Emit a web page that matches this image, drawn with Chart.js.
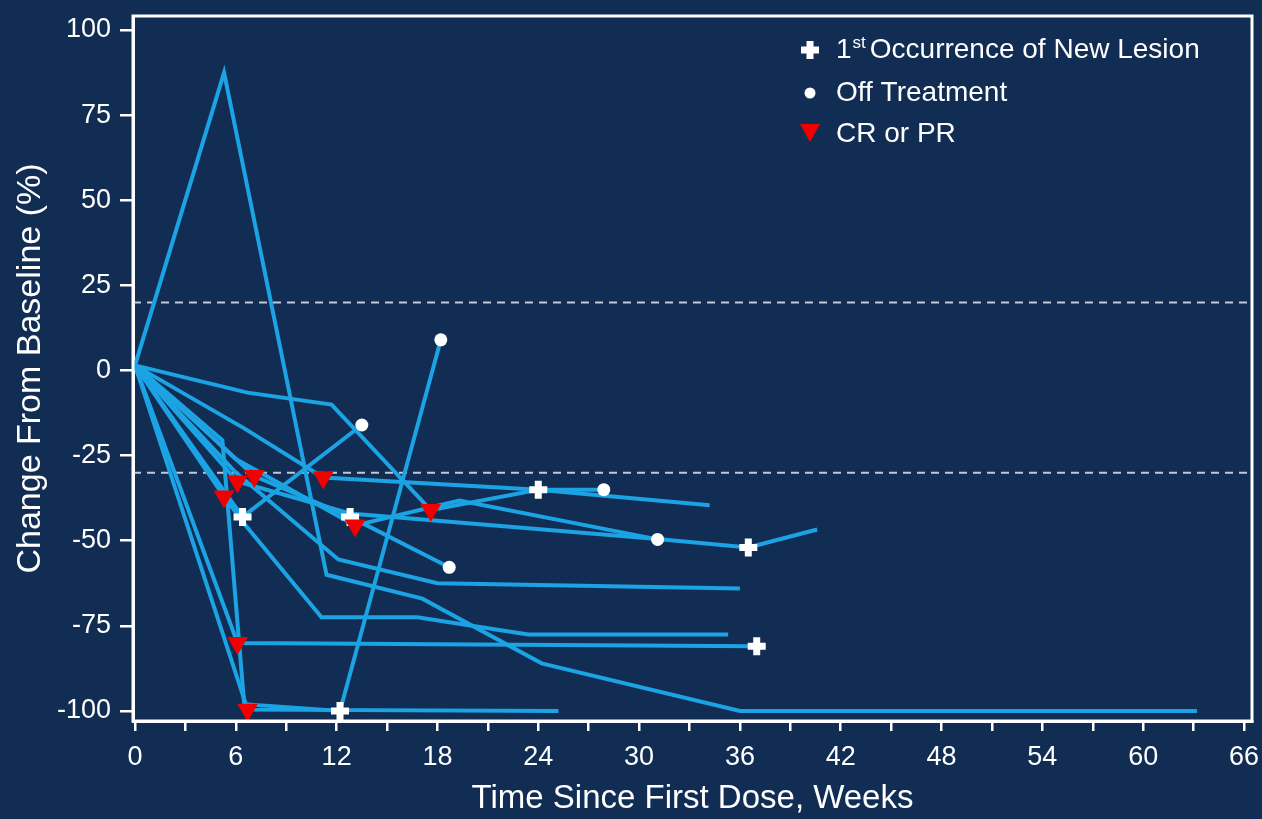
<!DOCTYPE html>
<html>
<head>
<meta charset="utf-8">
<script src="https://cdn.jsdelivr.net/npm/chart.js@4.4.1/dist/chart.umd.min.js"></script>
<style>
  html, body { margin: 0; padding: 0; background: #122d54; }
  #wrap { width: 1262px; height: 819px; }
  canvas { display: block; }
</style>
</head>
<body>
<div id="wrap"><canvas id="spider" width="1262" height="819"></canvas></div>
<script>
// Per-patient tumour size change over time (weeks, % change from baseline)
const pt01Weeks  = [0, 5.3, 11.4, 17.1, 24.2, 36, 63.2];
const pt01Change = [1.5, 87.5, -60, -67, -86, -100, -100];
const pt02Weeks  = [0, 6.7, 11.7, 17.6, 24, 27.9];
const pt02Change = [1.5, -6.5, -10, -41, -35, -35];
const pt03Weeks  = [0, 6.5, 11.2, 24, 34.2];
const pt03Change = [1.5, -17, -31.4, -35, -39.6];
const pt04Weeks  = [0, 6.4, 13.5];
const pt04Change = [1.5, -43, -16];
const pt05Weeks  = [0, 6.1, 37];
const pt05Change = [1.5, -80, -81];
const pt06Weeks  = [0, 6.7, 25.2];
const pt06Change = [1.5, -99.6, -100];
const pt07Weeks  = [0, 5.2, 6.5, 12.2, 18.2];
const pt07Change = [1.5, -20.5, -98, -100, 9];
const pt08Weeks  = [0, 7.1, 12.8, 18.7];
const pt08Change = [1.5, -31, -43, -57.8];
const pt09Weeks  = [0, 6.1, 12.8, 31.1, 36.5, 40.6];
const pt09Change = [1.5, -32.6, -42, -49.5, -52, -46.7];
const pt10Weeks  = [0, 5.3, 6.5, 11.1, 16.8, 23.4, 35.3];
const pt10Change = [1.5, -37, -45, -72.5, -72.5, -77.5, -77.5];
const pt11Weeks  = [0, 6, 13.1, 19.3, 31.1];
const pt11Change = [1.5, -26, -45.5, -38.2, -49.6];
const pt12Weeks  = [0, 6, 12.1, 18, 36];
const pt12Change = [1.5, -30, -55.5, -62.5, -64];

// Event markers
const lesionWeeks  = [24, 12.8, 6.4, 12.2, 36.5, 37];
const lesionChange = [-35, -43, -43, -100, -52, -81];
const offTxWeeks   = [13.5, 18.2, 18.7, 27.9, 31.1];
const offTxChange  = [-16, 9, -57.8, -35, -49.6];
const respWeeks    = [5.3, 6.1, 7.1, 11.2, 13.1, 17.6, 6.1, 6.7];
const respChange   = [-37, -32.6, -31, -31.4, -45.5, -41, -80, -99.6];

// Reference thresholds (progression / response)
const thresholdLevels = [20, -30];

// Axis ticks
const xTickValues = [0,3,6,9,12,15,18,21,24,27,30,33,36,39,42,45,48,51,54,57,60,63,66];
const yTickValues = [-100, -75, -50, -25, 0, 25, 50, 75, 100];

const patients = [
  [pt01Weeks, pt01Change], [pt02Weeks, pt02Change], [pt03Weeks, pt03Change],
  [pt04Weeks, pt04Change], [pt05Weeks, pt05Change], [pt06Weeks, pt06Change],
  [pt07Weeks, pt07Change], [pt08Weeks, pt08Change], [pt09Weeks, pt09Change],
  [pt10Weeks, pt10Change], [pt11Weeks, pt11Change], [pt12Weeks, pt12Change]
];

const X_MIN = -0.119, X_MAX = 66.476;
const Y_MIN = -102.94, Y_MAX = 104.11;

const BG = '#122d54';
const LINE = '#1ba3e3';
const RED = '#f20000';
const FONT = "'Liberation Sans', Arial, sans-serif";

const zip = (xs, ys) => xs.map((x, i) => ({ x: x, y: ys[i] }));

const datasets = [];

// markers on top
datasets.push({
  label: 'CR or PR', data: zip(respWeeks, respChange), showLine: false,
  pointStyle: 'triangle', rotation: 180, pointRadius: 12,
  backgroundColor: RED, borderColor: RED, borderWidth: 0, order: 0, clip: false
});
datasets.push({
  label: 'Off Treatment', data: zip(offTxWeeks, offTxChange), showLine: false,
  pointStyle: 'circle', pointRadius: 6.5,
  backgroundColor: '#ffffff', borderColor: '#ffffff', borderWidth: 0, order: 0, clip: false
});
datasets.push({
  label: '1st Occurrence of New Lesion', data: zip(lesionWeeks, lesionChange), showLine: false,
  pointStyle: 'cross', pointRadius: 9,
  backgroundColor: '#ffffff', borderColor: '#ffffff', borderWidth: 7, order: 0, clip: false
});

// patient trajectories
patients.forEach(([w, c], i) => {
  datasets.push({
    label: 'Patient ' + (i + 1), data: zip(w, c), showLine: true,
    borderColor: LINE, borderWidth: 4, pointRadius: 0, tension: 0,
    borderJoinStyle: 'miter', order: 1, clip: false
  });
});

// threshold reference lines
thresholdLevels.forEach(level => {
  datasets.push({
    label: 'ref ' + level, data: [{ x: X_MIN, y: level }, { x: 66.2, y: level }],
    showLine: true, borderColor: '#c3c8d2', borderWidth: 2, borderDash: [8, 6],
    pointRadius: 0, order: 2
  });
});

// Frame around the plot area plus the marker key in the top right
const framePlugin = {
  id: 'frameAndKey',
  afterDraw(chart) {
    const { ctx, chartArea: a } = chart;
    ctx.save();
    ctx.strokeStyle = '#ffffff';
    ctx.lineWidth = 3;
    ctx.strokeRect(a.left, a.top, a.right - a.left, a.bottom - a.top);

    const mx = 810, tx = 836;
    // cross
    ctx.lineWidth = 7;
    ctx.beginPath();
    ctx.moveTo(mx - 9, 50); ctx.lineTo(mx + 9, 50);
    ctx.moveTo(mx, 41); ctx.lineTo(mx, 59);
    ctx.stroke();
    // circle
    ctx.fillStyle = '#ffffff';
    ctx.beginPath(); ctx.arc(mx, 93, 5.5, 0, Math.PI * 2); ctx.fill();
    // triangle
    ctx.fillStyle = RED;
    ctx.beginPath();
    ctx.moveTo(mx - 10, 124); ctx.lineTo(mx + 10, 124); ctx.lineTo(mx, 142);
    ctx.closePath(); ctx.fill();

    ctx.fillStyle = '#ffffff';
    ctx.textBaseline = 'middle';
    ctx.textAlign = 'left';
    ctx.font = '28px ' + FONT;
    ctx.fillText('1', tx, 50);
    let x = tx + ctx.measureText('1').width + 1;
    ctx.font = '17px ' + FONT;
    ctx.fillText('st', x, 43);
    x += ctx.measureText('st').width + 4;
    ctx.font = '28px ' + FONT;
    ctx.fillText('Occurrence of New Lesion', x, 50);
    ctx.fillText('Off Treatment', tx, 93);
    ctx.fillText('CR or PR', tx, 134);
    ctx.restore();
  }
};

const bgPlugin = {
  id: 'bg',
  beforeDraw(chart) {
    const { ctx, width, height } = chart;
    ctx.save();
    ctx.fillStyle = BG;
    ctx.fillRect(0, 0, width, height);
    ctx.restore();
  }
};

new Chart(document.getElementById('spider'), {
  type: 'scatter',
  data: { datasets },
  plugins: [bgPlugin, framePlugin],
  options: {
    responsive: false,
    animation: false,
    events: [],
    layout: { autoPadding: false, padding: { top: 16, right: 10, left: 0, bottom: 0 } },
    plugins: { legend: { display: false }, tooltip: { enabled: false } },
    scales: {
      x: {
        type: 'linear', position: 'bottom', min: X_MIN, max: X_MAX,
        afterBuildTicks: s => { s.ticks = xTickValues.map(v => ({ value: v })); },
        afterFit: s => { s.height = 98; s.paddingLeft = 0; s.paddingRight = 0; },
        ticks: {
          autoSkip: false, maxRotation: 0, color: '#ffffff', padding: 10,
          font: { family: FONT, size: 27 },
          callback: v => (v % 6 === 0 ? String(v) : '')
        },
        grid: { drawOnChartArea: false, drawTicks: true, tickLength: 10, color: '#ffffff', lineWidth: 2.5 },
        border: { display: true, color: '#ffffff', width: 3 },
        title: {
          display: true, text: 'Time Since First Dose, Weeks', color: '#ffffff',
          font: { family: FONT, size: 33 }, padding: { top: 0, bottom: 0 }
        }
      },
      y: {
        type: 'linear', position: 'left', min: Y_MIN, max: Y_MAX,
        afterBuildTicks: s => { s.ticks = yTickValues.map(v => ({ value: v })); },
        afterFit: s => { s.width = 133; s.paddingTop = 0; s.paddingBottom = 0; },
        ticks: {
          autoSkip: false, color: '#ffffff', padding: 9,
          font: { family: FONT, size: 27 },
          callback: v => String(v)
        },
        grid: { drawOnChartArea: false, drawTicks: true, tickLength: 13, color: '#ffffff', lineWidth: 2.5 },
        border: { display: true, color: '#ffffff', width: 3 },
        title: {
          display: true, text: 'Change From Baseline (%)', color: '#ffffff',
          font: { family: FONT, size: 34 }, padding: { top: 10, bottom: 0 }
        }
      }
    }
  }
});
</script>
</body>
</html>
